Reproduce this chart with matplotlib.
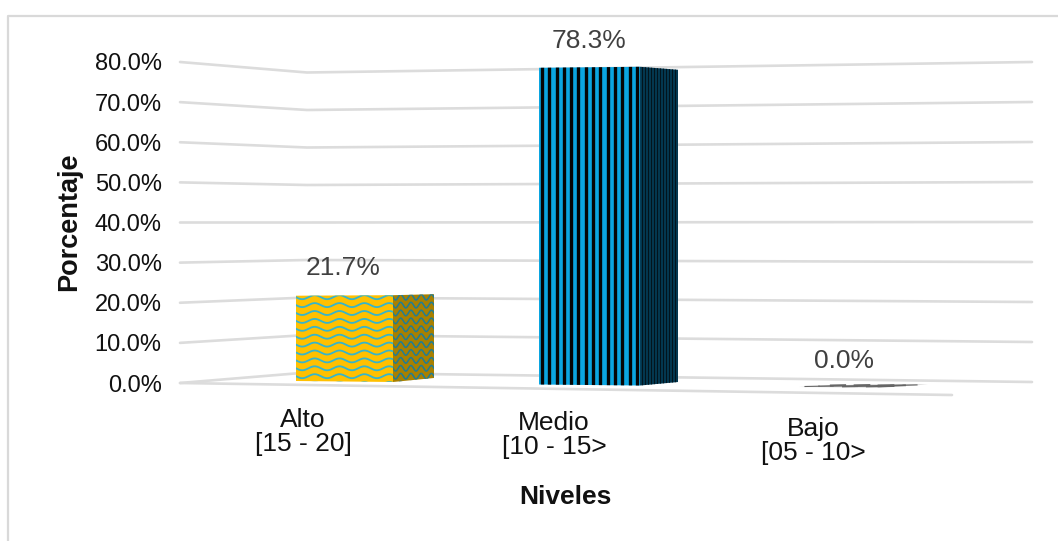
import numpy as np
import matplotlib
matplotlib.use("Agg")
import matplotlib.pyplot as plt
from matplotlib.patches import Polygon

plt.rcParams['font.family'] = ['Liberation Sans', 'DejaVu Sans']

categories = ["Alto\n[15 - 20]", "Medio\n[10 - 15>", "Bajo\n[05 - 10>"]
values = [21.7, 78.3, 0.0]
value_labels = ["21.7%", "78.3%", "0.0%"]
y_ticks = [0, 10, 20, 30, 40, 50, 60, 70, 80]
x_title = "Niveles"
y_title = "Porcentaje"

W, H = 1058, 541
fig = plt.figure(figsize=(W / 100, H / 100), dpi=100, facecolor="white")

# y data axis: value 0 at pixel row 383, value 80 at pixel row 62
PX_PER_UNIT = (383 - 62) / 80
L = 170
ax = fig.add_axes([L / W, 0, (W - L) / W, 1])
ax.set_xlim(L, W)
ax.set_ylim((383 - H) / PX_PER_UNIT, 383 / PX_PER_UNIT)
ax.patch.set_alpha(0)
for s in ax.spines.values():
    s.set_visible(False)
ax.set_xticks([])
ax.set_yticks(y_ticks)
ax.set_yticklabels([f"{v:.1f}%" for v in y_ticks], fontsize=17, color="#111111")
ax.tick_params(axis="y", length=0, pad=6)


def val(py):
    """pixel row -> axis value"""
    return (383 - py) / PX_PER_UNIT


# chart frame
fig.add_artist(plt.Line2D([8 / W, 8 / W, 1], [0, 1 - 16 / H, 1 - 16 / H], color="#d9d9d9", lw=1.6))

# walls and floor gridlines
GRID = "#dcdcdc"
for v in y_ticks:
    y_left = 383 - v * PX_PER_UNIT
    y_back = 372.5 - v * 3.75
    y_right = 382 - v * 4.0
    ax.plot([180, 307, 1032], [val(y_left), val(y_back), val(y_right)], color=GRID, lw=1.9, solid_capstyle="round", zorder=1)
ax.plot([180, 952], [val(383), val(395)], color=GRID, lw=1.9, solid_capstyle="round", zorder=1)


def add_poly(pts, **kw):
    p = Polygon([(x, val(y)) for x, y in pts], closed=True, **kw)
    ax.add_patch(p)
    return p


# Bar 0: yellow with wavy blue lines
top0 = 383 - values[0] * 4.0
front = [(296, top0 - 0.5), (393, top0 - 1), (393, 382), (296, 381)]
side = [(393, top0 - 1), (434, top0 - 2), (434, 378), (393, 382)]
fp = add_poly(front, fc="#ffc000", ec="none", zorder=3)
sp = add_poly(side, fc="#a88000", ec="none", zorder=3)
xx = np.linspace(296, 393, 300)
for y0 in np.arange(top0 + 1, 386, 7.9):
    ln, = ax.plot(xx, val(y0 + 2.0 * np.sin((xx - 296) / 97 * 2 * np.pi * 3.9)), color="#35b5cc", lw=1.3, zorder=4)
    ln.set_clip_path(fp)
xx = np.linspace(393, 434, 200)
for y0 in np.arange(top0 + 1, 386, 7.9):
    ln, = ax.plot(xx, val(y0 + 2.8 * np.sin((xx - 393) / 41 * 2 * np.pi * 4.0)), color="#1f7d96", lw=1.1, zorder=4)
    ln.set_clip_path(sp)

# Bar 1: blue with black vertical stripes
top1 = 383 - values[1] * 4.0
front = [(539, top1 - 2), (640, top1 - 3), (640, 385.5), (539, 384.5)]
side = [(640, top1 - 3), (678, top1), (678, 382), (640, 385.5)]
fp = add_poly(front, fc="#0ba5e0", ec="none", zorder=3)
sp = add_poly(side, fc="#04405c", ec="none", zorder=3)
for x in np.arange(542, 642, 7.3):
    ln, = ax.plot([x, x], [val(60), val(390)], color="#050505", lw=2.4, zorder=4, solid_capstyle="butt")
    ln.set_clip_path(fp)
for x in np.arange(642, 679, 3.0):
    ln, = ax.plot([x, x], [val(60), val(390)], color="#02141d", lw=1.0, zorder=4, solid_capstyle="butt")
    ln.set_clip_path(sp)

# Bar 2: zero height, seen as a flat sliver
add_poly([(799, 387), (860, 384.5), (928, 384.5), (880, 387.5)], fc="#c4c4c4", ec="none", zorder=3)
xx = [812, 826, 838, 850, 862, 874, 886, 898, 910]
ww = [0.8, 1.0, 1.6, 1.4, 1.9, 1.5, 2.0, 1.3, 0.8]
yy = [386.5, 386.2, 385.6, 386.4, 385.7, 386.3, 385.9, 385.6, 385.2]
for x, w, y in zip(xx, ww, yy):
    ax.plot([x - 7, x + 7], [val(y), val(y - 0.3)], color="#666666", lw=w, zorder=4)

# value labels
for x, py, t in zip([343, 589, 844], [268, 41, 361], value_labels):
    ax.text(x, val(py), t, fontsize=19, color="#404040", ha="center", va="center", zorder=5)

# category labels
for x, py, t in zip([303, 554, 813], [432, 435, 441], categories):
    ax.text(x, val(py), t, fontsize=19, color="#111111", ha="center", va="center", linespacing=1.05)

ax.text(565, val(497), x_title, fontsize=19, fontweight="bold", color="#111111", ha="center", va="center")
ax.text(69, val(222), y_title, fontsize=19.5, fontweight="bold", color="#111111", rotation=90, ha="center", va="center", clip_on=False)

fig.savefig("out.png", dpi=100)
